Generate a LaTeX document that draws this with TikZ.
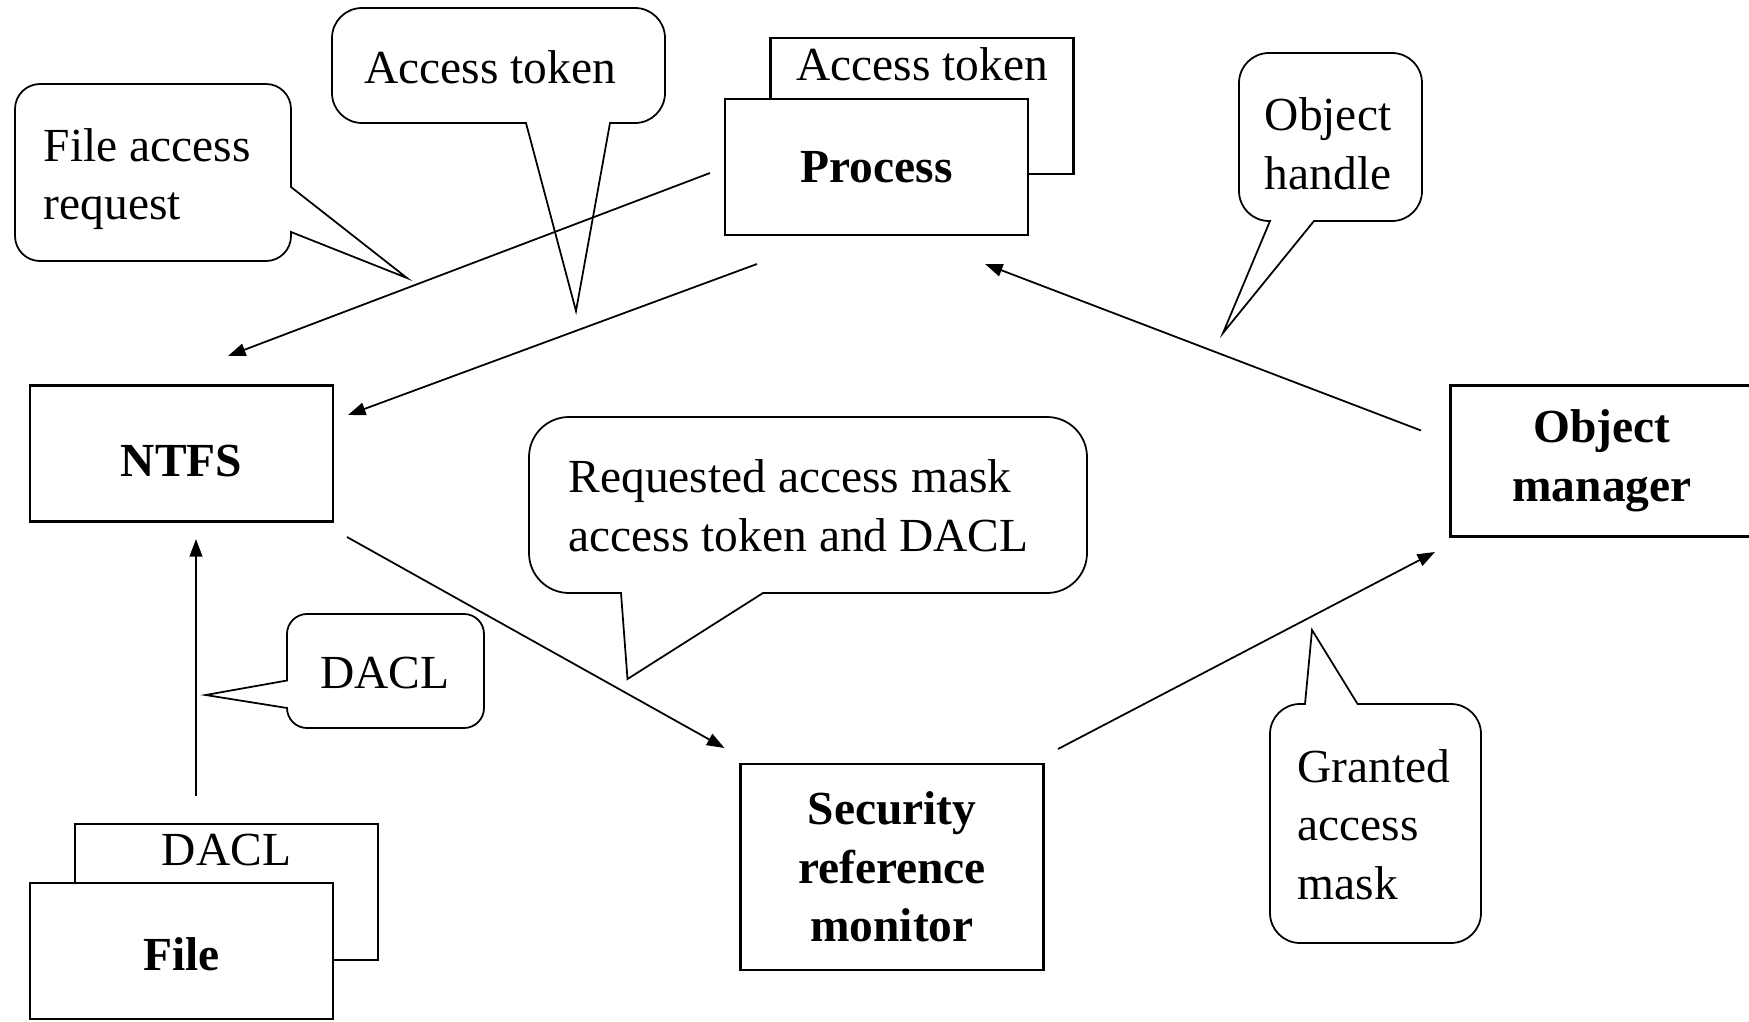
\documentclass[tikz,border=0pt]{standalone}
\usepackage{fontspec}
\setmainfont{Liberation Serif}
\usetikzlibrary{arrows.meta, positioning}

\begin{document}
\begin{tikzpicture}[
    every node/.style={font=\fontsize{13.5}{16.7}\selectfont},
    box/.style={draw, fill=white, line width=0.6pt, minimum width=3.03cm, minimum height=1.36cm,
        align=center, font=\fontsize{13.5}{16.7}\selectfont\bfseries},
    bubble/.style={line width=0.5pt},
    say/.style={inner sep=0pt, align=left},
    arr/.style={-{Triangle[length=5pt, width=3.6pt]}, line width=0.5pt}
]
    \useasboundingbox (0,0) rectangle (17.49,10.21);

    % Process with its access token
    \node[box] (tokenbox) at (9.22,9.15) {};
    \node (tokentxt) at (9.22,9.57) {Access token};
    \node[box] (process) at (8.765,8.54) {Process};

    % NTFS
    \node[box, text height=13pt] (ntfs) at (1.815,5.675) {NTFS};

    % File with its DACL
    \node[box] (daclbox) at (2.265,1.29) {};
    \node (dacltxt) at (2.265,1.71) {DACL};
    \node[box, text height=11.5pt] (file) at (1.815,0.70) {File};

    % Security reference monitor and object manager
    \node[box, minimum height=2.065cm] (srm) at (8.92,1.54) {Security\\reference\\monitor};
    \node[box, minimum height=1.51cm] (objmgr) at (16.02,5.6) {Object\\manager};

    % speech bubbles
    \draw[bubble] (2.91,7.89) [rounded corners=2.5mm] -- (2.91,7.60) -- (0.15,7.60) -- (0.15,9.37)
        -- (2.91,9.37) [sharp corners] -- (2.91,8.34) -- (4.07,7.43) -- cycle;
    \node[say, anchor=west] (reqtxt) at (0.43,8.42) {File access\\request};

    \draw[bubble] (6.10,8.98) [rounded corners=3mm] -- (6.65,8.98) -- (6.65,10.13) -- (3.32,10.13)
        -- (3.32,8.98) [sharp corners] -- (5.26,8.98) -- (5.76,7.10) -- cycle;
    \node (tokensay) at (4.90,9.54) {Access token};

    \draw[bubble] (13.14,8.00) [rounded corners=3mm] -- (14.22,8.00) -- (14.22,9.68) -- (12.39,9.68)
        -- (12.39,8.00) [sharp corners] -- (12.70,8.00) -- (12.23,6.88) -- cycle;
    \node[say, align=center] (handletxt) at (13.28,8.77) {Object\\handle};

    \draw[bubble] (7.63,4.28) [rounded corners=4mm] -- (10.87,4.28) -- (10.87,6.04) -- (5.29,6.04)
        -- (5.29,4.28) [sharp corners] -- (6.21,4.28) -- (6.275,3.42) -- cycle;
    \node[say, anchor=west] (masktxt) at (5.68,5.15) {Requested access mask\\access token and DACL};

    \draw[bubble] (2.87,3.405) [rounded corners=2mm] -- (2.87,4.07) -- (4.84,4.07) -- (4.84,2.93)
        -- (2.87,2.93) [sharp corners] -- (2.87,3.13) -- (2.056,3.26) -- cycle;
    \node (daclsay) at (3.85,3.48) {DACL};

    \draw[bubble] (13.576,3.17) [rounded corners=3mm] -- (14.81,3.17) -- (14.81,0.78) -- (12.70,0.78)
        -- (12.70,3.17) [sharp corners] -- (13.05,3.17) -- (13.12,3.91) -- cycle;
    \node[say, anchor=west] (granttxt) at (12.97,1.965) {Granted\\access\\mask};

    % arrow ends
    \coordinate (procout1) at (7.10,8.48);
    \coordinate (ntfsin1) at (2.28,6.65);
    \coordinate (procout2) at (7.57,7.57);
    \coordinate (ntfsin2) at (3.48,6.06);
    \coordinate (mgrout) at (14.21,5.905);
    \coordinate (procin) at (9.85,7.57);
    \coordinate (ntfsout) at (3.47,4.84);
    \coordinate (srmin) at (7.245,2.73);
    \coordinate (srmout) at (10.58,2.72);
    \coordinate (mgrin) at (14.35,4.69);
    \coordinate (fileout) at (1.96,2.25);
    \coordinate (ntfsin3) at (1.96,4.82);

    \draw[arr] (procout1) -- (ntfsin1);
    \draw[arr] (procout2) -- (ntfsin2);
    \draw[arr] (mgrout) -- (procin);
    \draw[arr] (ntfsout) -- (srmin);
    \draw[arr] (srmout) -- (mgrin);
    \draw[arr] (fileout) -- (ntfsin3);
\end{tikzpicture}
\end{document}
